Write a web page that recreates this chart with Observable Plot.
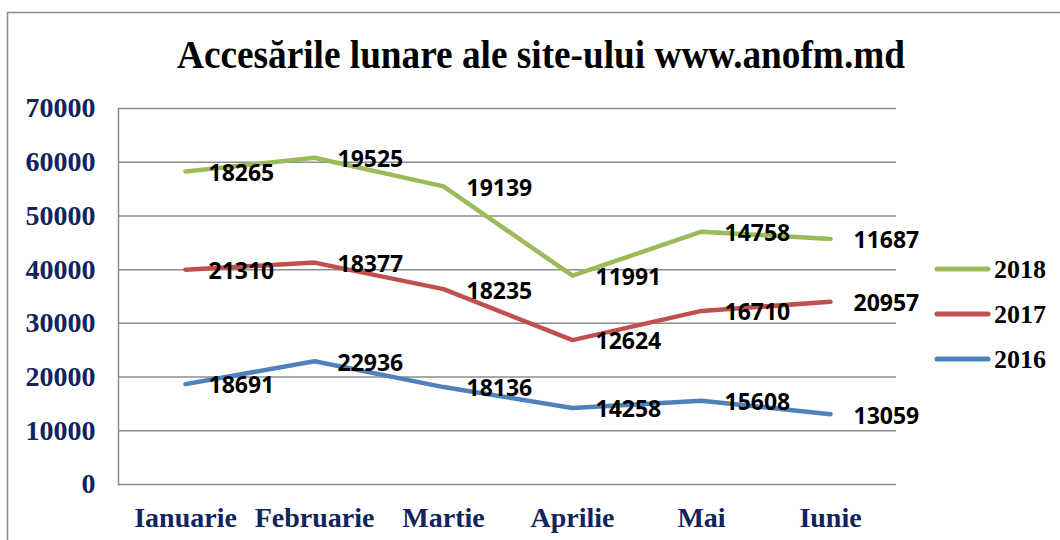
<!DOCTYPE html>
<html>
<head>
<meta charset="utf-8">
<script src="https://cdn.jsdelivr.net/npm/d3@7"></script>
<script src="https://cdn.jsdelivr.net/npm/@observablehq/plot@0.6"></script>
<style>
  html, body { margin: 0; padding: 0; background: #fff; }
  #wrap { position: relative; width: 1060px; height: 540px; overflow: hidden; }
  #wrap svg { position: absolute; left: 0; top: 0; }
  #overlay { pointer-events: none; }
  g[aria-label="y-axis tick label"], g[aria-label="x-axis tick label"] { fill: #10245e; }
</style>
</head>
<body>
<div id="wrap"></div>
<script>
const months = ["Ianuarie", "Februarie", "Martie", "Aprilie", "Mai", "Iunie"];
const seriesNames = ["2016", "2017", "2018"];
const values2016 = [18691, 22936, 18136, 14258, 15608, 13059];
const values2017 = [21310, 18377, 18235, 12624, 16710, 20957];
const values2018 = [18265, 19525, 19139, 11991, 14758, 11687];
const seriesColors = ["#4f81bd", "#c0504d", "#9bbb59"];
const yTicks = [0, 10000, 20000, 30000, 40000, 50000, 60000, 70000];
const title = "Accesările lunare ale site-ului www.anofm.md";

// stacked line (cumulative totals)
const seriesValues = [values2016, values2017, values2018];
const rows = [];
months.forEach((m, i) => {
  let cum = 0;
  seriesValues.forEach((vals, s) => {
    cum += vals[i];
    rows.push({month: m, series: seriesNames[s], value: vals[i], total: cum});
  });
});

const serif = "'Liberation Serif', 'Times New Roman', serif";
const grid = "#8c8c8c";

const chart = Plot.plot({
  width: 1060,
  height: 540,
  marginLeft: 118,
  marginRight: 164,
  marginTop: 108,
  marginBottom: 56,
  style: {fontFamily: serif, fontWeight: "bold", background: "transparent", overflow: "visible"},
  x: {type: "point", domain: months, padding: 0.5, label: null},
  y: {domain: [0, 70000], label: null},
  color: {domain: seriesNames, range: seriesColors},
  marks: [
    Plot.ruleY(yTicks, {stroke: grid, strokeWidth: 1.5}),
    Plot.frame({anchor: "left", stroke: grid, strokeWidth: 1.5}),
    Plot.axisY({ticks: yTicks, tickFormat: "d", tickSize: 0, tickPadding: 23, fontSize: 28, fontFamily: serif, fontWeight: "bold", label: null}),
    Plot.axisX({tickSize: 0, tickPadding: 23, fontSize: 28, fontFamily: serif, fontWeight: "bold", label: null}),
    Plot.line(rows, {x: "month", y: "total", z: "series", stroke: "series", strokeWidth: 4.5, strokeLinecap: "round", strokeLinejoin: "round"}),
    Plot.text(rows, {x: "month", y: "total", text: d => String(d.value), dx: 23, dy: 2, textAnchor: "start", fill: "#000", fontSize: 23, fontFamily: "'Open Sans', sans-serif", fontWeight: "bold"})
  ]
});

const wrap = document.getElementById("wrap");
wrap.appendChild(chart);

// overlay: border, title, legend
const svg = d3.select(wrap).append("svg")
  .attr("id", "overlay")
  .attr("width", 1060).attr("height", 540);

svg.append("path")
  .attr("d", "M7.5,540 L7.5,12.5 L1060,12.5")
  .attr("fill", "none").attr("stroke", "#8c8c8c").attr("stroke-width", 1.5);

svg.append("text")
  .attr("x", 541).attr("y", 68)
  .attr("text-anchor", "middle")
  .attr("font-family", serif).attr("font-weight", "bold").attr("font-size", 40)
  .attr("textLength", 728).attr("lengthAdjust", "spacingAndGlyphs")
  .attr("fill", "#000")
  .text(title);

const legendOrder = [2, 1, 0];
legendOrder.forEach((s, k) => {
  const y = 269 + k * 45;
  svg.append("line")
    .attr("x1", 937).attr("x2", 988).attr("y1", y).attr("y2", y)
    .attr("stroke", seriesColors[s]).attr("stroke-width", 5).attr("stroke-linecap", "round");
  svg.append("text")
    .attr("x", 994).attr("y", y + 9)
    .attr("font-family", serif).attr("font-weight", "bold").attr("font-size", 26)
    .attr("fill", "#000")
    .text(seriesNames[s]);
});
</script>
</body>
</html>
